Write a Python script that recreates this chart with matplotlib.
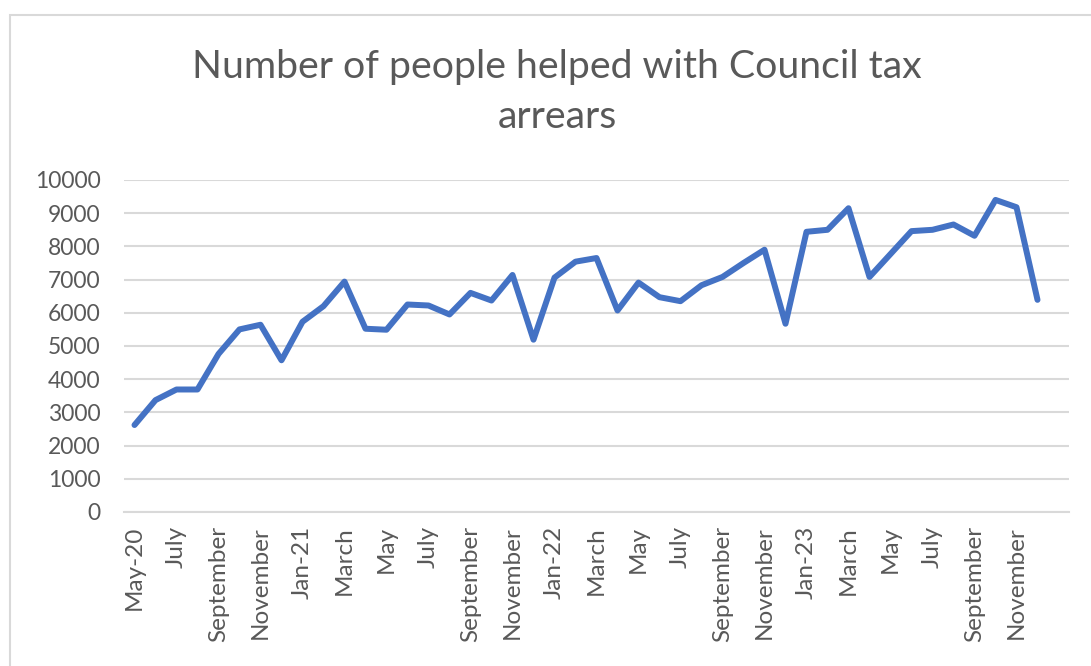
import matplotlib.pyplot as plt
from matplotlib.patches import Rectangle

plt.rcParams['font.family'] = ['Lato', 'DejaVu Sans']

# monthly counts, May 2020 .. Dec 2023
helped = [2620, 3370, 3690, 3690, 4760, 5500, 5640, 4570,
          5730, 6200, 6940, 5520, 5490, 6250, 6220, 5950, 6600, 6370, 7140, 5190,
          7060, 7540, 7650, 6070, 6910, 6470, 6350, 6830, 7080, 7500, 7900, 5670,
          8440, 8500, 9150, 7080, 7770, 8460, 8500, 8660, 8320, 9400, 9180, 6390]

tick_labels = ['May-20', 'July', 'September', 'November',
               'Jan-21', 'March', 'May', 'July', 'September', 'November',
               'Jan-22', 'March', 'May', 'July', 'September', 'November',
               'Jan-23', 'March', 'May', 'July', 'September', 'November']

grey = '#595959'

fig = plt.figure(figsize=(10.91, 6.66), dpi=100)
# chart border
fig.patches.append(Rectangle((10 / 1091, -0.1), 1.2, 1.1 - 15 / 666,
                             transform=fig.transFigure, fill=False,
                             edgecolor='#d9d9d9', linewidth=1.5))

ax = fig.add_axes([124 / 1091, 1 - 512 / 666, (1069 - 124) / 1091, (512 - 180) / 666])

x = list(range(len(helped)))
ax.plot(x, helped, color='#4472C4', linewidth=4.3, solid_joinstyle='round',
        solid_capstyle='round', zorder=3)

ax.set_xlim(-0.5, 44.5)
ax.set_ylim(0, 10000)
ax.set_yticks(range(0, 10001, 1000))
ax.set_xticks(range(0, 44, 2))
ax.set_xticklabels(tick_labels, rotation=90)

ax.grid(axis='y', color='#d9d9d9', linewidth=1.5)
ax.set_axisbelow(True)
for side in ['top', 'right', 'left']:
    ax.spines[side].set_visible(False)
ax.spines['bottom'].set_color('#d9d9d9')
ax.spines['bottom'].set_linewidth(1.5)
ax.tick_params(axis='y', length=0, labelsize=16.5, colors=grey, pad=17)
ax.tick_params(axis='x', length=0, labelsize=17.5, colors=grey, pad=10)

fig.text(557 / 1091, 1 - 67 / 666, 'Number of people helped with Council tax',
         ha='center', va='center', fontsize=28.3, color=grey)
fig.text(557 / 1091, 1 - 117 / 666, 'arrears',
         ha='center', va='center', fontsize=28.3, color=grey)

fig.savefig('out.png', dpi=100)
